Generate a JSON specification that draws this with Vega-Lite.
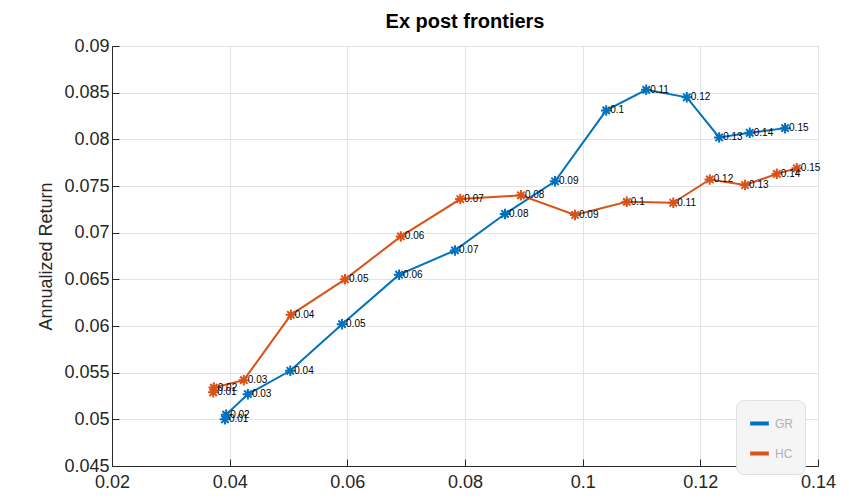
{
  "$schema": "https://vega.github.io/schema/vega-lite/v6.json",
  "width": 706,
  "height": 420,
  "autosize": {"type": "none"},
  "padding": {"left": 112, "top": 46, "right": 31, "bottom": 36},
  "background": "white",
  "title": {"text": "Ex post frontiers", "font": "Liberation Sans", "fontSize": 20, "fontWeight": "bold", "color": "#000000", "offset": 5},
  "config": {
    "view": {"stroke": "#262626", "strokeWidth": 1},
    "axis": {"labelFont": "Liberation Sans", "labelFontSize": 18, "labelColor": "#262626", "titleFont": "Liberation Sans", "titleColor": "#262626", "gridColor": "#e3e3e3", "gridWidth": 1, "domainColor": "#262626", "tickColor": "#262626", "tickSize": -7, "tickWidth": 1}
  },
  "data": {"values": [
    {"s": "GR", "x": 0.0392, "y": 0.0500, "label": "0.01"},
    {"s": "GR", "x": 0.0394, "y": 0.0505, "label": "0.02"},
    {"s": "GR", "x": 0.0431, "y": 0.0527, "label": "0.03"},
    {"s": "GR", "x": 0.0503, "y": 0.0552, "label": "0.04"},
    {"s": "GR", "x": 0.0591, "y": 0.0602, "label": "0.05"},
    {"s": "GR", "x": 0.0688, "y": 0.0655, "label": "0.06"},
    {"s": "GR", "x": 0.0783, "y": 0.0681, "label": "0.07"},
    {"s": "GR", "x": 0.0868, "y": 0.0720, "label": "0.08"},
    {"s": "GR", "x": 0.0953, "y": 0.0755, "label": "0.09"},
    {"s": "GR", "x": 0.1040, "y": 0.0831, "label": "0.1"},
    {"s": "GR", "x": 0.1108, "y": 0.0853, "label": "0.11"},
    {"s": "GR", "x": 0.1177, "y": 0.0845, "label": "0.12"},
    {"s": "GR", "x": 0.1232, "y": 0.0802, "label": "0.13"},
    {"s": "GR", "x": 0.1284, "y": 0.0807, "label": "0.14"},
    {"s": "GR", "x": 0.1344, "y": 0.0812, "label": "0.15"},
    {"s": "HC", "x": 0.0372, "y": 0.0529, "label": "0.01"},
    {"s": "HC", "x": 0.0373, "y": 0.0534, "label": "0.02"},
    {"s": "HC", "x": 0.0424, "y": 0.0542, "label": "0.03"},
    {"s": "HC", "x": 0.0504, "y": 0.0612, "label": "0.04"},
    {"s": "HC", "x": 0.0596, "y": 0.0650, "label": "0.05"},
    {"s": "HC", "x": 0.0691, "y": 0.0696, "label": "0.06"},
    {"s": "HC", "x": 0.0792, "y": 0.0736, "label": "0.07"},
    {"s": "HC", "x": 0.0895, "y": 0.0740, "label": "0.08"},
    {"s": "HC", "x": 0.0987, "y": 0.0719, "label": "0.09"},
    {"s": "HC", "x": 0.1075, "y": 0.0733, "label": "0.1"},
    {"s": "HC", "x": 0.1154, "y": 0.0732, "label": "0.11"},
    {"s": "HC", "x": 0.1216, "y": 0.0757, "label": "0.12"},
    {"s": "HC", "x": 0.1276, "y": 0.0751, "label": "0.13"},
    {"s": "HC", "x": 0.1330, "y": 0.0763, "label": "0.14"},
    {"s": "HC", "x": 0.1364, "y": 0.0769, "label": "0.15"}
  ]},
  "encoding": {
    "x": {"field": "x", "type": "quantitative", "scale": {"domain": [0.02, 0.14], "nice": false, "zero": false},
      "axis": {"title": null, "values": [0.02, 0.04, 0.06, 0.08, 0.1, 0.12, 0.14], "format": "~g", "labelPadding": 14, "labelFlush": false}},
    "y": {"field": "y", "type": "quantitative", "scale": {"domain": [0.045, 0.09], "nice": false, "zero": false},
      "axis": {"title": "Annualized Return", "titleFontSize": 18, "titleFontWeight": "normal", "titlePadding": 8, "values": [0.045, 0.05, 0.055, 0.06, 0.065, 0.07, 0.075, 0.08, 0.085, 0.09], "format": "~g", "labelPadding": 10, "labelFlush": false}}
  },
  "layer": [
    {
      "mark": {"type": "line", "strokeWidth": 2},
      "encoding": {
        "color": {"field": "s", "type": "nominal", "scale": {"domain": ["GR", "HC"], "range": ["#0072BD", "#D95319"]},
          "legend": {"title": null, "orient": "none", "legendX": 624, "legendY": 354, "direction": "vertical", "fillColor": "#f5f5f5", "strokeColor": "#e0e0e0", "padding": 12, "labelColor": "#b0b0b0", "labelFontSize": 12, "labelFont": "Liberation Sans", "symbolType": "stroke", "symbolStrokeWidth": 4, "symbolSize": 350, "rowPadding": 10, "cornerRadius": 8}},
        "order": {"field": "label", "type": "quantitative"}
      }
    },
    {
      "mark": {"type": "point", "shape": "M-1,0L1,0M0,-1L0,1M-0.7,-0.7L0.7,0.7M-0.7,0.7L0.7,-0.7", "size": 110, "strokeWidth": 2, "filled": false, "opacity": 1},
      "encoding": {
        "color": {"field": "s", "type": "nominal", "scale": {"domain": ["GR", "HC"], "range": ["#0072BD", "#D95319"]}}
      }
    },
    {
      "mark": {"type": "text", "align": "left", "baseline": "middle", "dx": 4, "fontSize": 10, "font": "Liberation Sans", "color": "#000000"},
      "encoding": {"text": {"field": "label"}}
    }
  ]
}
